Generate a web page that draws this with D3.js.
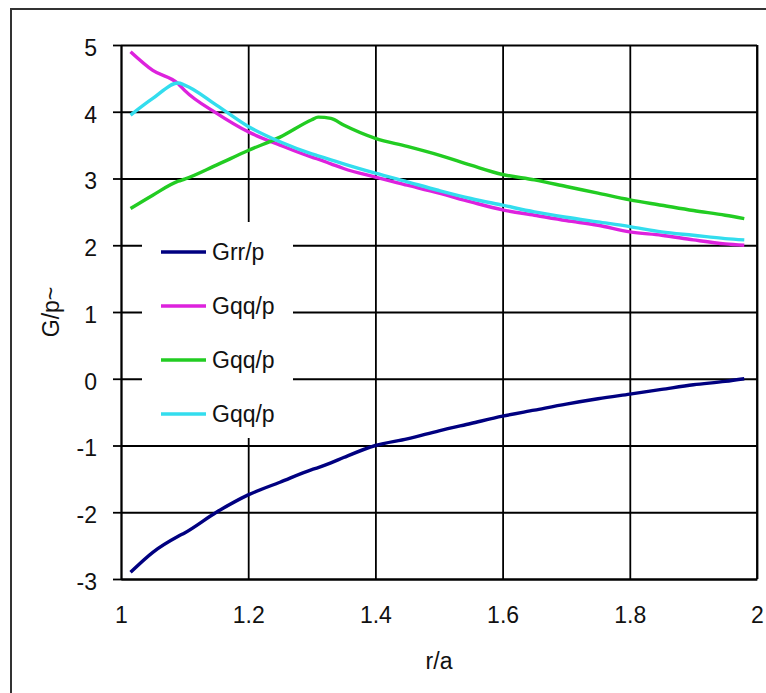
<!DOCTYPE html>
<html>
<head>
<meta charset="utf-8">
<script src="https://cdn.jsdelivr.net/npm/d3@7"></script>
<style>
  body { margin: 0; background: #fff; }
  text { font-family: "Liberation Sans", Arial, sans-serif; fill: #111; }
</style>
</head>
<body>
<div id="chart"></div>
<script>
// Data

const rValues = [1.015, 1.05, 1.09, 1.1, 1.15, 1.2, 1.25, 1.3, 1.31, 1.33, 1.35, 1.4, 1.45, 1.5, 1.55, 1.6, 1.65, 1.7, 1.75, 1.8, 1.85, 1.9, 1.95, 1.98];
const grr = [-2.9, -2.6, -2.36, -2.31, -2.0, -1.74, -1.55, -1.36, -1.33, -1.26, -1.18, -1.0, -0.9, -0.78, -0.67, -0.56, -0.47, -0.38, -0.3, -0.23, -0.16, -0.09, -0.04, 0.0];
const gqq1 = [4.9, 4.62, 4.42, 4.32, 3.98, 3.7, 3.5, 3.32, 3.29, 3.22, 3.15, 3.02, 2.9, 2.78, 2.65, 2.53, 2.45, 2.37, 2.3, 2.2, 2.15, 2.08, 2.02, 2.0];
const gqq2 = [2.55, 2.75, 2.96, 2.99, 3.2, 3.42, 3.62, 3.88, 3.92, 3.9, 3.8, 3.6, 3.48, 3.35, 3.2, 3.06, 2.98, 2.88, 2.78, 2.68, 2.6, 2.52, 2.45, 2.4];
const gqq3 = [3.95, 4.2, 4.43, 4.4, 4.1, 3.78, 3.55, 3.37, 3.34, 3.28, 3.22, 3.08, 2.95, 2.82, 2.7, 2.6, 2.5, 2.42, 2.35, 2.28, 2.2, 2.15, 2.1, 2.08];

const seriesNames = ["Grr/p", "Gqq/p", "Gqq/p", "Gqq/p"];
const seriesColors = ["#000080", "#dd22dd", "#22cc22", "#33ddee"];
const xTicks = [1, 1.2, 1.4, 1.6, 1.8, 2];
const yTicks = [-3, -2, -1, 0, 1, 2, 3, 4, 5];

const series = [grr, gqq1, gqq2, gqq3].map((vals, i) => ({
  name: seriesNames[i],
  color: seriesColors[i],
  points: rValues.map((r, j) => ({ r, v: vals[j] })),
}));

// Chart

const width = 766;
const height = 693;
const plot = { left: 121, right: 757, top: 45, bottom: 579 };
const fontSize = "23px";

const svg = d3
  .select("#chart")
  .append("svg")
  .attr("width", width)
  .attr("height", height);

// outer frame (cut off at right and bottom)
svg
  .append("rect")
  .attr("x", 11)
  .attr("y", 9)
  .attr("width", 800)
  .attr("height", 800)
  .attr("fill", "#fff")
  .attr("stroke", "#333")
  .attr("stroke-width", 2);

const xScale = d3.scaleLinear().domain([1, 2]).range([plot.left, plot.right]);
const yScale = d3.scaleLinear().domain([-3, 5]).range([plot.bottom, plot.top]);

// gridlines
svg
  .append("g")
  .attr("transform", `translate(${plot.left},0)`)
  .call(
    d3.axisLeft(yScale)
      .tickValues(yTicks)
      .tickSize(-(plot.right - plot.left))
      .tickFormat("")
  )
  .call((g) => g.select(".domain").remove())
  .selectAll("line")
  .attr("stroke", "#000")
  .attr("stroke-width", 1.8);

svg
  .append("g")
  .attr("transform", `translate(0,${plot.bottom})`)
  .call(
    d3.axisBottom(xScale)
      .tickValues(xTicks)
      .tickSize(-(plot.bottom - plot.top))
      .tickFormat("")
  )
  .call((g) => g.select(".domain").remove())
  .selectAll("line")
  .attr("stroke", "#000")
  .attr("stroke-width", 1.8);

// y axis with outer ticks and labels (plain hyphen for negatives)
const yAxis = svg
  .append("g")
  .attr("transform", `translate(${plot.left},0)`)
  .call(
    d3.axisLeft(yScale)
      .tickValues(yTicks)
      .tickSize(8)
      .tickPadding(16)
      .tickSizeOuter(0)
      .tickFormat((d) => String(d))
  );
yAxis.select(".domain").attr("stroke", "#000").attr("stroke-width", 1.8);
yAxis.selectAll("line").attr("stroke", "#000").attr("stroke-width", 1.8);
yAxis
  .selectAll("text")
  .attr("font-size", fontSize)
  .attr("font-family", "Liberation Sans, Arial, sans-serif")
  .attr("fill", "#111")
  .attr("dy", "0.45em");

// x axis labels
const xAxis = svg
  .append("g")
  .attr("transform", `translate(0,${plot.bottom})`)
  .call(
    d3.axisBottom(xScale)
      .tickValues(xTicks)
      .tickSize(0)
      .tickPadding(28)
      .tickFormat((d) => String(d))
  );
xAxis.select(".domain").attr("stroke", "#000").attr("stroke-width", 1.8);
xAxis
  .selectAll("text")
  .attr("font-size", fontSize)
  .attr("font-family", "Liberation Sans, Arial, sans-serif")
  .attr("fill", "#111");

// axis titles
svg
  .append("text")
  .attr("x", (plot.left + plot.right) / 2)
  .attr("y", 669)
  .attr("text-anchor", "middle")
  .attr("font-size", fontSize)
  .text("r/a");

svg
  .append("text")
  .attr("transform", `translate(59,${(plot.top + plot.bottom) / 2}) rotate(-90)`)
  .attr("text-anchor", "middle")
  .attr("font-size", fontSize)
  .text("G/p~");

// lines
const line = d3
  .line()
  .curve(d3.curveMonotoneX)
  .x((d) => xScale(d.r))
  .y((d) => yScale(d.v));

svg
  .append("g")
  .selectAll("path")
  .data(series)
  .enter()
  .append("path")
  .attr("d", (d) => line(d.points))
  .attr("fill", "none")
  .attr("stroke", (d) => d.color)
  .attr("stroke-width", 3.4)
  .attr("stroke-linejoin", "round");

// plot border (right edge)
svg
  .append("line")
  .attr("x1", plot.right)
  .attr("x2", plot.right)
  .attr("y1", plot.top)
  .attr("y2", plot.bottom)
  .attr("stroke", "#000")
  .attr("stroke-width", 1.8);

// legend
const legend = svg.append("g").attr("transform", "translate(142,222)");
legend
  .append("rect")
  .attr("width", 151)
  .attr("height", 216)
  .attr("fill", "#fff");

const items = legend
  .selectAll(".item")
  .data(series)
  .enter()
  .append("g")
  .attr("transform", (d, i) => `translate(0,${30 + i * 54})`);

items
  .append("line")
  .attr("x1", 19)
  .attr("x2", 64)
  .attr("stroke", (d) => d.color)
  .attr("stroke-width", 3.4);

items
  .append("text")
  .attr("x", 70)
  .attr("dy", "0.36em")
  .attr("font-size", fontSize)
  .text((d) => d.name);
</script>
</body>
</html>
